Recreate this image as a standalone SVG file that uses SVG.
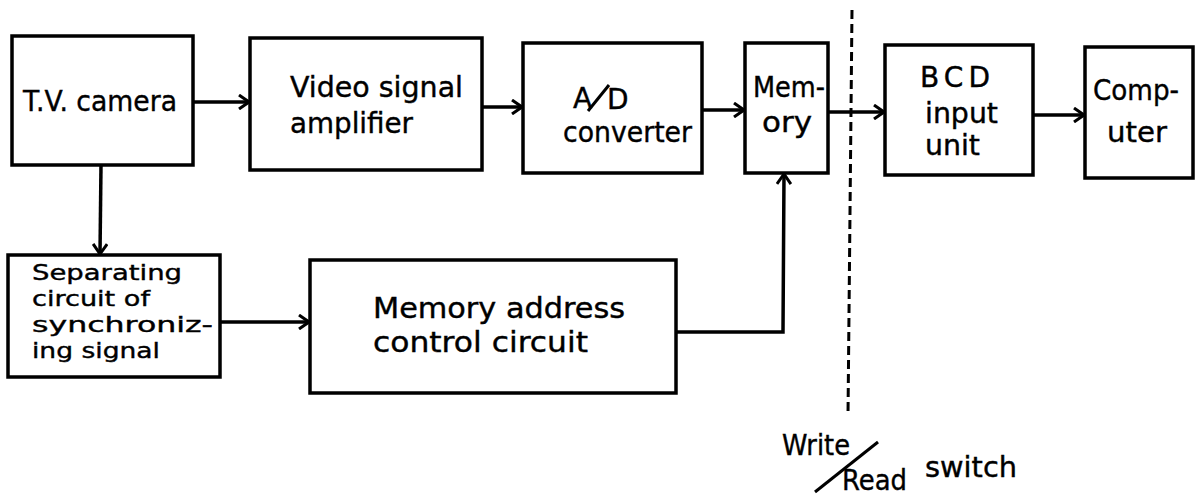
<svg xmlns="http://www.w3.org/2000/svg" width="1196" height="500" viewBox="0 0 1196 500">
<style>
.box{fill:#fff;stroke:#000;stroke-width:3.5}
.t{font-family:"DejaVu Sans",sans-serif;font-size:28px;fill:#000;stroke:#000;stroke-width:0.4}
.s{font-size:22px}
.c{fill:none;stroke:#000;stroke-width:3.5}
</style>
<defs>
<marker id="ah" viewBox="0 0 12 16" refX="11" refY="8" markerWidth="12" markerHeight="16" markerUnits="userSpaceOnUse" orient="auto">
<path d="M1,1 L11,8 L1,15" fill="none" stroke="#000" stroke-width="3"/>
</marker>
</defs>
<rect width="1196" height="500" fill="#fff"/>
<g id="connectors">
<line class="c" x1="193" y1="102" x2="249" y2="102" marker-end="url(#ah)"/>
<line class="c" x1="482" y1="107" x2="522" y2="107" marker-end="url(#ah)"/>
<line class="c" x1="702" y1="110" x2="744" y2="110" marker-end="url(#ah)"/>
<line class="c" x1="828" y1="112" x2="884" y2="112" marker-end="url(#ah)"/>
<line class="c" x1="1033" y1="115" x2="1084" y2="115" marker-end="url(#ah)"/>
<line class="c" x1="101" y1="165" x2="100" y2="254" marker-end="url(#ah)"/>
<line class="c" x1="220" y1="322" x2="309" y2="322" marker-end="url(#ah)"/>
<path class="c" d="M676,332 L783,332 L784,174" marker-end="url(#ah)"/>
<line x1="852" y1="10" x2="848" y2="415" stroke="#000" stroke-width="3" stroke-dasharray="9,5"/>
</g>
<g id="tv-camera">
<rect class="box" x="12" y="36" width="181" height="129"/>
<text class="t" x="23" y="111" textLength="154" lengthAdjust="spacingAndGlyphs">T.V. camera</text>
</g>
<g id="video-amp">
<rect class="box" x="250" y="38" width="232" height="132"/>
<text class="t" x="290" y="97" textLength="173" lengthAdjust="spacingAndGlyphs">Video signal</text>
<text class="t" x="290" y="133" textLength="123" lengthAdjust="spacingAndGlyphs">amplifier</text>
</g>
<g id="ad-converter">
<rect class="box" x="523" y="43" width="179" height="130"/>
<text class="t" x="573" y="108">A</text>
<line x1="588" y1="111" x2="609" y2="85" stroke="#000" stroke-width="3"/>
<text class="t" x="607" y="109">D</text>
<text class="t" x="563" y="142" textLength="129" lengthAdjust="spacingAndGlyphs">converter</text>
</g>
<g id="memory">
<rect class="box" x="745" y="43" width="83" height="130"/>
<text class="t" x="753" y="97" textLength="72" lengthAdjust="spacingAndGlyphs">Mem-</text>
<text class="t" x="762" y="132" textLength="50" lengthAdjust="spacingAndGlyphs">ory</text>
</g>
<g id="bcd-input">
<rect class="box" x="885" y="45" width="148" height="130"/>
<text class="t" x="920" y="87" textLength="70">BCD</text>
<text class="t" x="925" y="123" textLength="73" lengthAdjust="spacingAndGlyphs">input</text>
<text class="t" x="925" y="155" textLength="55" lengthAdjust="spacingAndGlyphs">unit</text>
</g>
<g id="computer">
<rect class="box" x="1085" y="47" width="108" height="131"/>
<text class="t" x="1093" y="100" textLength="86" lengthAdjust="spacingAndGlyphs">Comp-</text>
<text class="t" x="1107" y="142" textLength="60" lengthAdjust="spacingAndGlyphs">uter</text>
</g>
<g id="separating">
<rect class="box" x="8" y="255" width="212" height="122"/>
<text class="t s" x="32" y="280" textLength="150" lengthAdjust="spacingAndGlyphs">Separating</text>
<text class="t s" x="32" y="306" textLength="118" lengthAdjust="spacingAndGlyphs">circuit of</text>
<text class="t s" x="32" y="332" textLength="181" lengthAdjust="spacingAndGlyphs">synchroniz-</text>
<text class="t s" x="32" y="358" textLength="128" lengthAdjust="spacingAndGlyphs">ing signal</text>
</g>
<g id="mem-address">
<rect class="box" x="310" y="260" width="366" height="133"/>
<text class="t" x="373" y="318" textLength="252" lengthAdjust="spacingAndGlyphs">Memory address</text>
<text class="t" x="373" y="352" textLength="215" lengthAdjust="spacingAndGlyphs">control circuit</text>
</g>
<g id="switch-label">
<text class="t" x="782" y="455" textLength="68" lengthAdjust="spacingAndGlyphs">Write</text>
<line x1="815" y1="492" x2="878" y2="442" stroke="#000" stroke-width="3"/>
<text class="t" x="842" y="490" textLength="65" lengthAdjust="spacingAndGlyphs">Read</text>
<text class="t" x="925" y="477" textLength="92" lengthAdjust="spacingAndGlyphs">switch</text>
</g>
</svg>
